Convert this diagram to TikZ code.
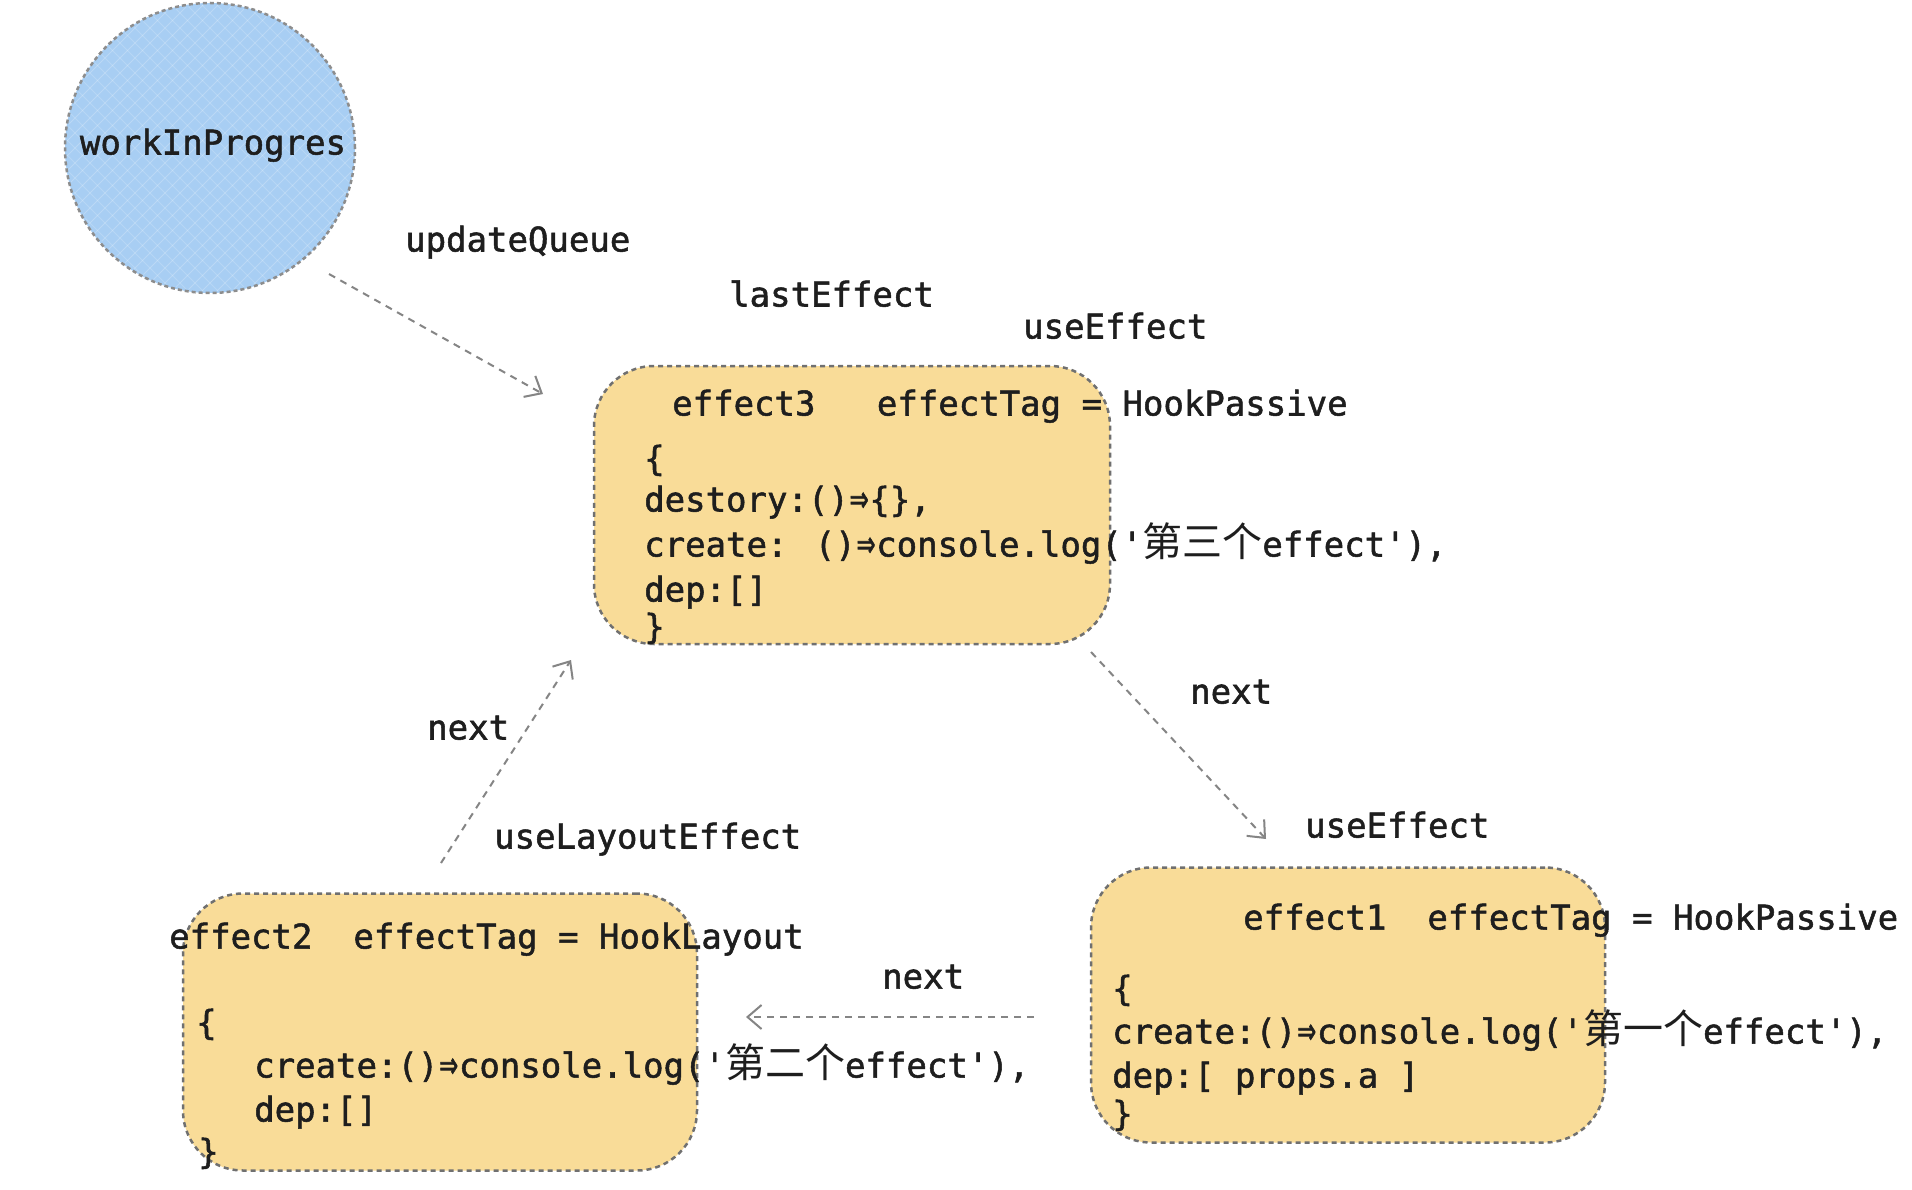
\documentclass[tikz,border=0pt]{standalone}
\usepackage{fontspec}
\usepackage{graphicx}
\newfontfamily\codefont{DejaVu Sans Mono}[FakeBold=1.5]
\newfontfamily\cjk{Noto Sans CJK SC}
\newfontfamily\arrfont{DejaVu Sans}[FakeBold=2]
\newcommand{\darr}{\makebox[20.5pt]{\resizebox{19pt}{19pt}{\arrfont ⇒}}}
\newcommand{\cjkt}[1]{{\cjk\fontsize{40}{40}\selectfont #1}}
\usetikzlibrary{arrows.meta}
\definecolor{boxfill}{RGB}{249,220,152}
\definecolor{circfill}{RGB}{168,206,243}
\definecolor{edgegray}{RGB}{112,112,112}
\definecolor{txt}{RGB}{30,30,30}
\tikzset{
  lbl/.style={font=\codefont\fontsize{34}{40}\selectfont, text=txt, inner sep=0pt,
    anchor=west, text height=25pt, text depth=8pt},
  effbox/.style={draw=edgegray, dash pattern=on 5pt off 4pt, line width=2.5pt,
    fill=boxfill, rounded corners=60pt, inner sep=0pt},
  wipcirc/.style={circle, draw=edgegray!80, dash pattern=on 4pt off 3pt, line width=2.5pt,
    fill=circfill, inner sep=0pt, minimum size=290pt},
  link/.style={draw=edgegray!85, dash pattern=on 7pt off 6pt, line width=2pt,
    -{Straight Barb[length=14pt,width=24pt,line width=2pt]}},
}
\begin{document}
\begin{tikzpicture}[x=1pt,y=-1pt]
\useasboundingbox (0,0) rectangle (1912,1190);
\fill[white] (0,0) rectangle (1912,1190);

% circle
\node[wipcirc] (wip) at (210,148) {};
\begin{scope}
  \clip (210,148) circle (143pt);
  \foreach \k in {-300,-285,...,300} {
    \draw[white, opacity=0.22, line width=1pt] (210+\k-200,148+200) -- (210+\k+200,148-200);
    \draw[white, opacity=0.18, line width=1pt] (210+\k-200,148-200) -- (210+\k+200,148+200);
  }
\end{scope}
\node[lbl, anchor=center] (wiptext) at (213,146) {workInProgres};

% boxes
\node[effbox, minimum width=516pt, minimum height=278pt] (box3) at (852,505) {};
\node[effbox, minimum width=514pt, minimum height=275pt] (box1) at (1348,1005) {};
\node[effbox, minimum width=514pt, minimum height=277pt] (box2) at (440,1032) {};

% labels
\node[lbl] (uq) at (405,243) {updateQueue};
\node[lbl] (le) at (729,298) {lastEffect};
\node[lbl] (ue3) at (1023,330) {useEffect};
\node[lbl] (n31) at (1190,695) {next};
\node[lbl] (ue1) at (1305,829) {useEffect};
\node[lbl] (n12) at (882,980) {next};
\node[lbl] (ule) at (494,840) {useLayoutEffect};
\node[lbl] (n23) at (427,731) {next};

% box3 text
\node[lbl] (h3) at (672,407) {effect3\ \ \ effectTag = HookPassive};
\node[lbl] (b3a) at (644,462) {\{};
\node[lbl] (b3b) at (644,503) {destory:()\darr\{\},};
\node[lbl] (b3c) at (644,548) {create: ()\darr console.log('\cjkt{第三个}effect'),};
\node[lbl] (b3d) at (644,593) {dep:[]};
\node[lbl] (b3e) at (644,630) {\}};

% box1 text
\node[lbl] (h1) at (1243,921) {effect1\ \ effectTag = HookPassive};
\node[lbl] (b1a) at (1112,992) {\{};
\node[lbl] (b1b) at (1112,1035) {create:()\darr console.log('\cjkt{第一个}effect'),};
\node[lbl] (b1c) at (1112,1079) {dep:[ props.a ]};
\node[lbl] (b1d) at (1112,1117) {\}};

% box2 text
\node[lbl] (h2) at (169,940) {effect2\ \ effectTag = HookLayout};
\node[lbl] (b2a) at (196,1026) {\{};
\node[lbl] (b2b) at (254,1069) {create:()\darr console.log('\cjkt{第二个}effect'),};
\node[lbl] (b2c) at (254,1113) {dep:[]};
\node[lbl] (b2d) at (198,1155) {\}};

% connectors
\coordinate (a1s) at (329,274); \coordinate (a1e) at (543,394);
\coordinate (a2s) at (1091,652); \coordinate (a2e) at (1266,839);
\coordinate (a3s) at (1034,1017); \coordinate (a3e) at (746,1017);
\coordinate (a4s) at (441,863); \coordinate (a4e) at (571,660);
\draw[link] (a1s) -- (a1e);
\draw[link] (a2s) -- (a2e);
\draw[link] (a3s) -- (a3e);
\draw[link] (a4s) -- (a4e);
\end{tikzpicture}
\end{document}
